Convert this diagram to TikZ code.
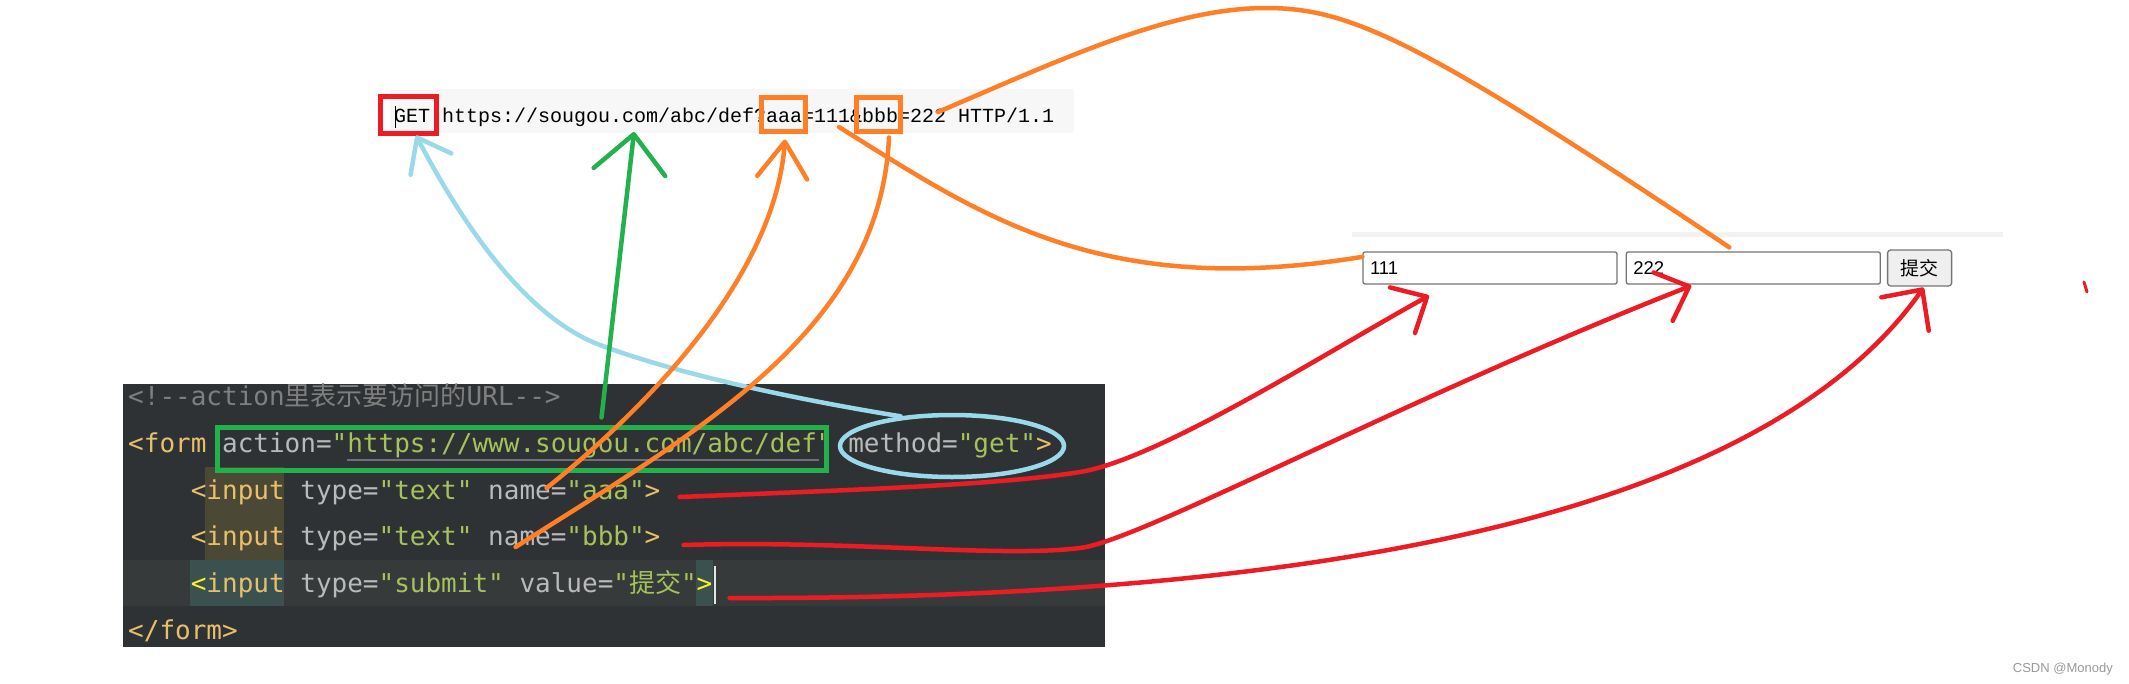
\documentclass[tikz,border=0pt]{standalone}
\usepackage{fontspec}
\usetikzlibrary{arrows.meta,positioning,calc,shapes.geometric}
\setmainfont{Liberation Sans}
\newfontfamily\codefont{DejaVu Sans Mono}
\newfontfamily\urlfont{Liberation Mono}
\newfontfamily\cjkfont{Noto Sans CJK SC}
\definecolor{penred}{HTML}{ED1C24}
\definecolor{penorange}{HTML}{FF7F27}
\definecolor{pengreen}{HTML}{22B14C}
\definecolor{penblue}{HTML}{99D9EA}
\definecolor{codebg}{HTML}{2E3234}
\definecolor{curline}{HTML}{363A3B}
\definecolor{hlyellow}{HTML}{4C4836}
\definecolor{hlteal}{HTML}{3A5150}
\definecolor{tagcol}{HTML}{E8BF6A}
\definecolor{attrcol}{HTML}{BABABA}
\definecolor{strcol}{HTML}{A5C25C}
\definecolor{comcol}{HTML}{7F7F7F}
\definecolor{bracecol}{HTML}{FFEF28}
\definecolor{underl}{HTML}{6E7276}
\definecolor{urlbg}{HTML}{F7F7F7}
\definecolor{fieldline}{HTML}{767676}
\definecolor{btnbg}{HTML}{EFEFEF}
\definecolor{stripgray}{HTML}{F2F2F2}
\definecolor{wmgray}{HTML}{9A9A9A}

\newcommand{\ctag}[1]{\textcolor{tagcol}{#1}}
\newcommand{\cattr}[1]{\textcolor{attrcol}{#1}}
\newcommand{\cstr}[1]{\textcolor{strcol}{#1}}
\newcommand{\cbrace}[1]{\textcolor{bracecol}{#1}}

\begin{document}
\begin{tikzpicture}[x=1pt,y=-1pt,
  codeline/.style={anchor=base west,inner sep=0pt,font=\codefont\fontsize{26}{30}\selectfont},
  markbox/.style={draw=#1,line width=5pt,inner sep=0pt},
  pen/.style={draw=#1,line width=4.5pt,line cap=round,line join=round},
  barb/.style 2 args={-{Straight Barb[length=#1,width=#2,round]}},
  fieldbox/.style={draw=fieldline,fill=white,line width=1.3pt,rounded corners=2pt,
    minimum height=32pt,inner xsep=7pt,inner ysep=0pt,text width=240pt,align=left,
    font=\fontsize{18.5}{20}\selectfont},
  btnbox/.style={draw=fieldline,fill=btnbg,line width=1.3pt,rounded corners=3pt,
    minimum width=64pt,minimum height=36pt,inner sep=0pt,font=\cjkfont\fontsize{19}{21}\selectfont}]
  \useasboundingbox (0,0) rectangle (2129,683);
  \fill[white] (0,0) rectangle (2129,683);

  % request line
  \fill[urlbg] (390,89) rectangle (1074,133);
  \node[anchor=base west,inner sep=0pt,font=\urlfont\fontsize{20}{24}\selectfont] (url) at (394,122)
    {GET https://sougou.com/abc/def?aaa=111\&bbb=222 HTTP/1.1};
  \draw[black,line width=1pt] (395,106) -- (395,128);
  \node[markbox=penred,minimum width=56pt,minimum height=37pt] (getbox) at (408,114.5) {};
  \node[markbox=penorange,minimum width=44pt,minimum height=34pt] (aaabox) at (783,114) {};
  \node[markbox=penorange,minimum width=44pt,minimum height=34pt] (bbbbox) at (878,114) {};

  % code editor
  \fill[codebg] (123,384) rectangle (1105,647);
  \fill[curline] (123,560) rectangle (1105,606);
  \fill[hlyellow] (205,467) rectangle (284,560);
  \fill[hlteal] (190,560) rectangle (284,606);
  \fill[hlteal] (696,560) rectangle (713,606);
  \node[codeline] (lcomment) at (128,405) {\textcolor{comcol}{<!--action{\cjkfont 里表示要访问的}URL-->}};
  \node[codeline] (lform) at (128,452) {\ctag{<form} \cattr{action=}\cstr{"https://www.sougou.com/abc/def"} \cattr{method=}\cstr{"get"}\ctag{>}};
  \node[codeline] (laaa) at (190.6,499) {\ctag{<input} \cattr{type=}\cstr{"text"} \cattr{name=}\cstr{"aaa"}\ctag{>}};
  \node[codeline] (lbbb) at (190.6,545) {\ctag{<input} \cattr{type=}\cstr{"text"} \cattr{name=}\cstr{"bbb"}\ctag{>}};
  \node[codeline] (lsubmit) at (190.6,592) {\cbrace{<}\ctag{input} \cattr{type=}\cstr{"submit"} \cattr{value=}\cstr{"{\cjkfont 提交}"}\cbrace{>}};
  \node[codeline] (lendform) at (128,639) {\ctag{</form>}};
  \draw[underl,line width=1.5pt] (347,460) -- (819,460);
  \draw[white!80!gray,line width=1.5pt] (715,566) -- (715,604);
  \node[markbox=pengreen,minimum width=609pt,minimum height=43pt] (actionbox) at (521.5,448.5) {};
  \node[markbox=penblue,ellipse,line width=4.5pt,minimum width=224pt,minimum height=62pt] (methodell) at (952,446) {};

  % browser form
  \fill[stripgray] (1352,232) rectangle (2003,237);
  \node[fieldbox] (field1) at (1490,268) {111};
  \node[fieldbox,right=8pt of field1] (field2) {222};
  \node[btnbox,right=6pt of field2] (submitbtn) {提交};

  % pen strokes
  \draw[pen=penblue,barb={30pt}{46pt}] (methodell.150) .. controls (800,400) and (680,375) .. (600,345)
    .. controls (520,315) and (455,210) .. ($(getbox.south)+(8,0)$);
  \draw[pen=pengreen,barb={38pt}{72pt}] ($(actionbox.north)+(80,-7)$) -- ($(url.base west)+(240,10)$);
  \draw[pen=penorange,barb={36pt}{50pt}] ($(laaa.base west)+(356,-11)$) .. controls (650,405) and (775,275) .. ($(aaabox.south)+(2,6)$);
  \draw[pen=penorange] ($(lbbb.base west)+(325,2)$) .. controls (700,430) and (880,330) .. ($(bbbbox.south)+(11,4)$);
  \draw[pen=penorange] ($(url.base west)+(445,5)$) .. controls (980,215) and (1100,300) .. (field1.175);
  \draw[pen=penorange] ($(url.base west)+(544,-10)$) .. controls (1060,60) and (1170,8) .. (1266,8)
    .. controls (1350,8) and (1420,40) .. ($(field2.north)+(-24,-4)$);
  \draw[pen=penred,barb={28pt}{52pt}] ($(laaa.base east)+(19,-2)$) .. controls (850,490) and (1000,485) .. (1080,472)
    .. controls (1160,459) and (1330,350) .. ($(field1.south)+(-61,11)$);
  \draw[pen=penred,barb={28pt}{52pt}] ($(lbbb.base east)+(23,0)$) .. controls (850,540) and (1000,558) .. (1080,548)
    .. controls (1140,541) and (1400,400) .. ($(field2.south)+(-62,1)$);
  \draw[pen=penred,barb={30pt}{58pt}] ($(lsubmit.base east)+(17,6)$) .. controls (1300,600) and (1760,520) .. ($(submitbtn.south)+(4,1)$);
  \draw[penred,line width=3pt,line cap=round] (2084,282) -- (2087,292);

  % watermark
  \node[anchor=base east,inner sep=0pt,text=wmgray,font=\fontsize{13}{15}\selectfont] (watermark) at (2113,672) {CSDN @Monody};
\end{tikzpicture}
\end{document}
